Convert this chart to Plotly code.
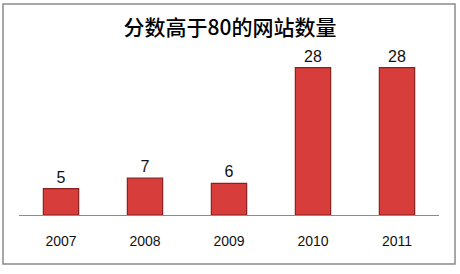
import plotly.graph_objects as go

years = ["2007", "2008", "2009", "2010", "2011"]
counts = [5, 7, 6, 28, 28]
title_text = "分数高于80的网站数量"

fig = go.Figure()
fig.add_trace(go.Bar(
    x=years, y=counts,
    width=0.42,
    marker=dict(color="#d63d3b", line=dict(color="#8e1f1f", width=1.2)),
    text=[str(v) for v in counts],
    textposition="outside",
    textfont=dict(family="Liberation Sans, Arial", size=16, color="#111111"),
    cliponaxis=False,
))

fig.update_layout(
    width=460, height=274,
    margin=dict(l=19, r=21, t=57, b=59),
    paper_bgcolor="white", plot_bgcolor="white",
    showlegend=False,
    title=dict(text=title_text, x=0.5, xanchor="center", y=0.9, yanchor="middle",
               yref="container",
               font=dict(family="Noto Sans CJK SC", size=21, color="#000000", weight=500)),
    xaxis=dict(showline=True, linecolor="#8c8c8c", linewidth=1, showgrid=False,
               ticks="", ticklabelstandoff=13,
               tickfont=dict(family="Liberation Sans, Arial", size=14, color="#111111")),
    yaxis=dict(range=[0, 30], visible=False, showgrid=False, zeroline=False),
    shapes=[dict(type="rect", xref="paper", yref="paper",
                 x0=-0.0381, x1=1.0381, y0=-0.3101, y1=1.3354,
                 line=dict(color="#8a8a8a", width=1.5), fillcolor="rgba(0,0,0,0)",
                 layer="below")],
    bargap=0.58,
)

fig.write_html("out.html")
